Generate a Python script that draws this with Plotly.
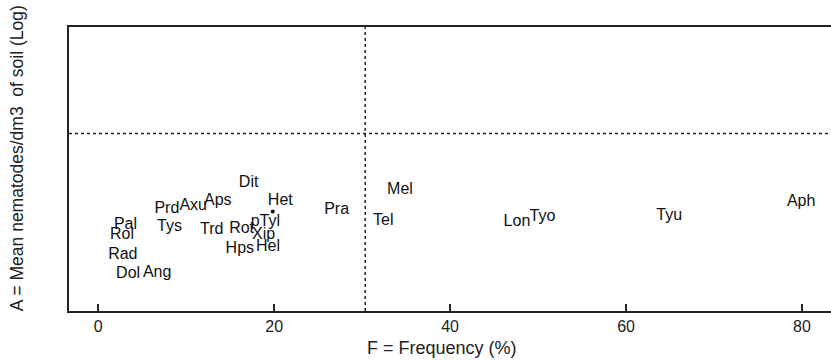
import plotly.graph_objects as go

# Nematode taxa: frequency (%) vs log mean abundance
labels = ["Dit", "Het", "pTyl", "Prd", "Axu", "Aps", "Pal", "Rol", "Tys", "Trd",
          "Rot", "Xip", "Hps", "Hel", "Rad", "Dol", "Ang", "Pra", "Mel", "Tel",
          "Lon", "Tyo", "Tyu", "Aph"]
freq = [17.1, 20.7, 19.0, 7.8, 10.8, 13.6, 3.1, 2.7, 8.1, 12.9,
        16.3, 18.8, 16.1, 19.3, 2.8, 3.4, 6.7, 27.1, 34.3, 32.4,
        47.6, 50.5, 64.9, 79.9]
abund = [1.80, 1.55, 1.25, 1.43, 1.48, 1.55, 1.21, 1.07, 1.18, 1.14,
         1.15, 1.07, 0.88, 0.90, 0.79, 0.52, 0.54, 1.42, 1.71, 1.27,
         1.25, 1.33, 1.34, 1.54]

dot_x = [19.84]
dot_y = [1.40]

freq_threshold = 30.35
abund_threshold = 2.5

x_ticks = [0, 20, 40, 60, 80]

FONT = "Arial, Liberation Sans, sans-serif"
INK = "#222"

# the frame of the original continues past the right edge of the picture:
# the figure is a little wider than the 831px window, so its right side is off-screen
FIG_W = 845
PLOT_W = FIG_W - 69

fig = go.Figure()
fig.add_trace(go.Scatter(
    x=freq, y=abund, mode="text", text=labels,
    textposition="middle center",
    textfont=dict(family=FONT, size=16, color="#111"),
    showlegend=False, hoverinfo="text"))
fig.add_trace(go.Scatter(
    x=dot_x, y=dot_y, mode="markers",
    marker=dict(size=4, color="#111"), showlegend=False))

# threshold lines
fig.add_shape(type="line", xref="x", yref="paper", x0=freq_threshold, x1=freq_threshold,
              y0=0, y1=1, line=dict(color=INK, width=1.5, dash="dot"))
fig.add_shape(type="line", xref="paper", yref="y", x0=0, x1=1,
              y0=abund_threshold, y1=abund_threshold,
              line=dict(color=INK, width=1.5, dash="dot"))

fig.add_annotation(text="F = Frequency (%)", xref="paper", yref="paper",
                   x=(443 - 69) / PLOT_W, y=-(348 - 311) / 284, xanchor="center", yanchor="middle",
                   showarrow=False, font=dict(family=FONT, size=18, color=INK))
fig.add_annotation(text="A = Mean nematodes/dm3  of soil (Log)", xref="paper", yref="paper",
                   x=(17 - 69) / PLOT_W, y=(311 - 158) / 284, xanchor="center", yanchor="middle",
                   textangle=-90, showarrow=False,
                   font=dict(family=FONT, size=17.5, color=INK))

fig.update_layout(
    width=FIG_W, height=360,
    margin=dict(l=69, r=0, t=27, b=49),
    paper_bgcolor="white", plot_bgcolor="white",
    font=dict(family=FONT, color=INK),
    xaxis=dict(range=[-3.32, 84.66], tickvals=x_ticks, ticktext=[str(v) for v in x_ticks],
               ticks="inside", ticklen=7, tickwidth=1.5, tickcolor=INK,
               showline=True, linecolor=INK, linewidth=2, mirror=True,
               showgrid=False, zeroline=False,
               tickfont=dict(family=FONT, size=16, color=INK)),
    yaxis=dict(range=[0, 4], showticklabels=False, ticks="",
               showline=True, linecolor=INK, linewidth=2, mirror=True,
               showgrid=False, zeroline=False),
)

fig.write_html("out.html",
               config={"displayModeBar": False},
               post_script="document.documentElement.style.margin='0';"
                           "document.documentElement.style.overflow='hidden';"
                           "document.body.style.margin='0';"
                           "document.body.style.overflow='hidden';")
